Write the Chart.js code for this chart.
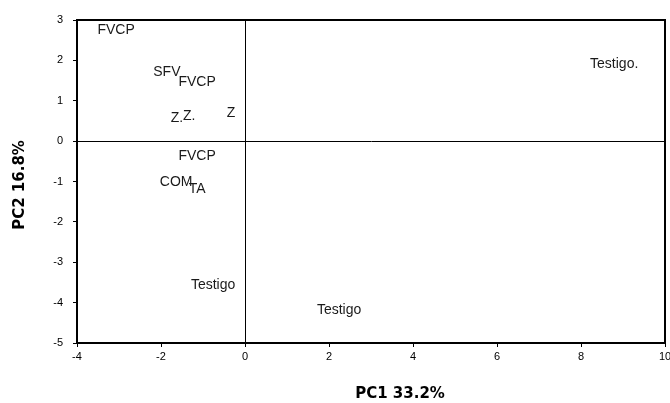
<!DOCTYPE html>
<html>
<head>
<meta charset="utf-8">
<script src="https://cdn.jsdelivr.net/npm/chart.js@4"></script>
<style>
  html, body { margin: 0; padding: 0; background: #fff; }
  #wrap { width: 670px; height: 403px; }
</style>
</head>
<body>
<div id="wrap"><canvas id="myChart" width="670" height="403"></canvas></div>
<script>
// treatment labels and their PCA scores
const labels = ['FVCP', 'SFV', 'FVCP', 'Z.', 'Z.', 'Z', 'FVCP', 'COM', 'TA', 'Testigo', 'Testigo', 'Testigo.'];
const pc1 = [-3.07, -1.86, -1.14, -1.62, -1.33, -0.33, -1.14, -1.64, -1.14, -0.76, 2.24, 8.79];
const pc2 = [2.75, 1.71, 1.46, 0.57, 0.62, 0.69, -0.37, -1.02, -1.19, -3.57, -4.19, 1.91];

const xTicks = [-4, -2, 0, 2, 4, 6, 8, 10];
const yTicks = [-5, -4, -3, -2, -1, 0, 1, 2, 3];
const xTitle = 'PC1 33.2%';
const yTitle = 'PC2 16.8%';

const ctx = document.getElementById('myChart');

const zeroLine = (c) => c.tick && c.tick.value === 0 ? '#000' : 'rgba(0,0,0,0)';

const textLabels = {
  id: 'textLabels',
  afterDatasetsDraw(chart) {
    const c = chart.ctx;
    const xs = chart.scales.x, ys = chart.scales.y;
    const a = chart.chartArea;
    c.save();
    // box on top and right
    c.strokeStyle = '#000';
    c.lineWidth = 2;
    c.beginPath();
    c.moveTo(a.left, a.top);
    c.lineTo(a.right, a.top);
    c.lineTo(a.right, a.bottom);
    c.stroke();

    c.fillStyle = '#1a1a1a';
    c.font = '14px "Liberation Sans", Arial, sans-serif';
    c.textAlign = 'center';
    c.textBaseline = 'middle';
    labels.forEach((t, i) => {
      c.fillText(t, xs.getPixelForValue(pc1[i]), ys.getPixelForValue(pc2[i]));
    });

    // axis titles
    c.fillStyle = '#000';
    c.font = 'bold 15px "DejaVu Sans", sans-serif';
    c.fillText(xTitle, 400, 394);
    c.translate(20, 185);
    c.rotate(-Math.PI / 2);
    c.fillText(yTitle, 0, 0);
    c.restore();
  }
};

new Chart(ctx, {
  type: 'scatter',
  data: {
    datasets: [{
      data: pc1.map((v, i) => ({ x: v, y: pc2[i] })),
      pointRadius: 0,
      pointHoverRadius: 0
    }]
  },
  options: {
    responsive: false,
    animation: false,
    events: [],
    layout: { padding: { top: 20, right: 5, left: 0, bottom: 0 } },
    plugins: { legend: { display: false }, tooltip: { enabled: false } },
    scales: {
      x: {
        type: 'linear',
        min: -4, max: 10,
        afterBuildTicks: (s) => { s.ticks = xTicks.map(v => ({ value: v })); },
        afterFit: (s) => { s.height = 60; s.paddingRight = 0; s.paddingLeft = 0; },
        border: { display: true, color: '#000', width: 2 },
        grid: { color: zeroLine, lineWidth: 1, drawTicks: true, tickLength: 4, tickColor: '#000' },
        ticks: { color: '#000', padding: 3, maxRotation: 0, font: { family: '"Liberation Sans", Arial', size: 11 } }
      },
      y: {
        type: 'linear',
        min: -5, max: 3,
        afterBuildTicks: (s) => { s.ticks = yTicks.map(v => ({ value: v })); },
        afterFit: (s) => { s.width = 77; s.paddingTop = 0; s.paddingBottom = 0; },
        border: { display: true, color: '#000', width: 2 },
        grid: { color: zeroLine, lineWidth: 1, drawTicks: true, tickLength: 4, tickColor: '#000' },
        ticks: { color: '#000', padding: 10, font: { family: '"Liberation Sans", Arial', size: 11 } }
      }
    }
  },
  plugins: [textLabels]
});
</script>
</body>
</html>
